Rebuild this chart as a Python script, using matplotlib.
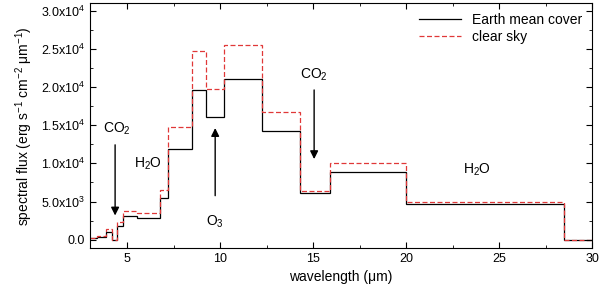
import numpy as np
import matplotlib
matplotlib.use("Agg")
import matplotlib.pyplot as plt
from matplotlib.ticker import FixedLocator, FixedFormatter, MultipleLocator

plt.rcParams['font.family'] = ['Liberation Sans', 'DejaVu Sans']
plt.rcParams['mathtext.fontset'] = 'custom'
plt.rcParams['mathtext.rm'] = 'Liberation Sans'
plt.rcParams['mathtext.it'] = 'Liberation Sans:italic'

# bin edges (micron) and fluxes
edges = [3.0, 3.4, 3.87, 4.2, 4.45, 4.75, 5.5, 6.77, 7.2, 8.5, 9.25, 10.2,
         12.24, 14.3, 15.9, 20.0, 28.5, 30.0]
mean_cover = [200, 400, 950, 0, 1750, 3100, 2900, 5500, 11900, 19600, 16100,
              21100, 14300, 6100, 8900, 4650, 0]
clear_sky = [250, 500, 1350, 0, 2300, 3800, 3450, 6500, 14800, 24800, 19800,
             25500, 16700, 6400, 10000, 5000, 0]

ytick_vals = [0, 5000, 10000, 15000, 20000, 25000, 30000]
ytick_labels = ["0.0", "5.0x10$^{3}$", "1.0x10$^{4}$", "1.5x10$^{4}$",
                "2.0x10$^{4}$", "2.5x10$^{4}$", "3.0x10$^{4}$"]

fig = plt.figure(figsize=(6.0, 2.93), dpi=100)
ax = fig.add_axes([0.15, 0.1536, 0.837, 0.835])

ax.stairs(mean_cover, edges, baseline=None, color='k', lw=0.9,
          label='Earth mean cover')
ax.stairs(clear_sky, edges, baseline=None, color='#e03838', lw=0.9,
          ls=(0, (4, 2)), label='clear sky')

ax.set_xlim(3, 30)
ax.set_ylim(-1100, 31000)
ax.xaxis.set_major_locator(MultipleLocator(5))
ax.xaxis.set_minor_locator(MultipleLocator(2.5))
ax.yaxis.set_major_locator(FixedLocator(ytick_vals))
ax.yaxis.set_major_formatter(FixedFormatter(ytick_labels))
ax.yaxis.set_minor_locator(MultipleLocator(2500))
ax.tick_params(which='both', direction='in', top=True, right=True, labelsize=9)
ax.tick_params(which='major', length=4)
ax.tick_params(which='minor', length=2.5)

ax.set_xlabel('wavelength (\u03bcm)', fontsize=10)
ax.set_ylabel('spectral flux (erg s$^{-1}$ cm$^{-2}$ \u03bcm$^{-1}$)', fontsize=10)

arrow = dict(arrowstyle='-|>', color='k', lw=1, mutation_scale=12)
ax.annotate('', xy=(4.35, 2800), xytext=(4.35, 12800), arrowprops=arrow)
ax.text(4.46, 14600, 'CO$_2$', ha='center', va='center', fontsize=10)
ax.text(6.13, 10000, 'H$_2$O', ha='center', va='center', fontsize=10)
ax.annotate('', xy=(9.73, 15000), xytext=(9.73, 5400), arrowprops=arrow)
ax.text(9.73, 2300, 'O$_3$', ha='center', va='center', fontsize=10)
ax.annotate('', xy=(15.05, 10200), xytext=(15.05, 20000), arrowprops=arrow)
ax.text(15.05, 21600, 'CO$_2$', ha='center', va='center', fontsize=10)
ax.text(23.8, 9100, 'H$_2$O', ha='center', va='center', fontsize=10)

ax.legend(loc='upper right', frameon=False, fontsize=10, handlelength=3,
          borderaxespad=0.3, labelspacing=0.2)

fig.savefig('out.png', dpi=100)
